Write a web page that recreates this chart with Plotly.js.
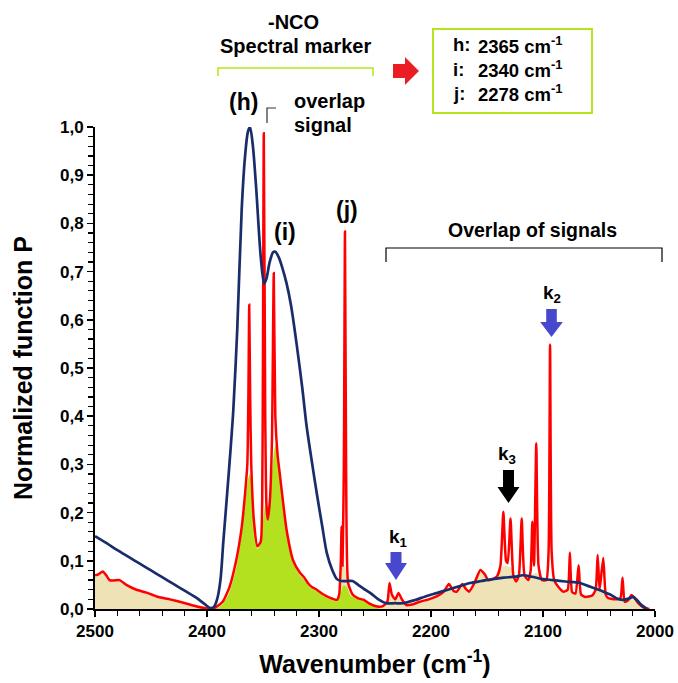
<!DOCTYPE html>
<html><head><meta charset="utf-8">
<script src="https://cdn.plot.ly/plotly-3.0.1.min.js"></script>
<style>html,body{margin:0;padding:0;background:#fff}#chart{width:678px;height:683px}</style>
</head><body><div id="chart"></div>
<script>
// ---- data (wavenumber cm-1, normalized P) ----
const redX = [2500,2497,2493,2490,2487,2484,2478,2472,2463,2454,2445,2433,2421,2409,2400,2396,2392,2386,2380,2374,2369,2366,2364,2363,2362.3,2361.5,2360.5,2358,2355,2352,2350.5,2349.3,2348,2347,2345.8,2344,2342,2340.4,2339,2337,2335,2333,2329,2323,2317,2313,2310,2306,2302,2296,2290,2284,2282,2280.5,2279.8,2279,2277.8,2276.8,2275.8,2274,2270,2265,2260,2254,2248,2243,2239,2237,2235,2232,2229,2226,2222,2216,2210,2202,2195,2189,2184,2180,2177,2172,2169,2166,2161,2156,2152,2149,2145,2141,2138,2135.4,2133,2131.5,2129,2126.5,2124,2121.5,2119,2116.5,2113,2111,2109.5,2108,2106,2104,2101,2097,2095,2093.7,2092.3,2090,2086,2082,2078,2076,2074,2071,2068.2,2066,2062,2056,2053,2051.2,2049.5,2046.2,2044,2042,2036,2031,2029,2027,2024,2021,2018,2015,2010,2005];
const redY = [0.070,0.072,0.078,0.070,0.060,0.059,0.060,0.050,0.040,0.034,0.026,0.020,0.013,0.005,0.001,0.000,0.004,0.015,0.045,0.100,0.170,0.240,0.300,0.450,0.631,0.450,0.300,0.180,0.130,0.140,0.300,0.987,0.400,0.220,0.185,0.220,0.350,0.697,0.400,0.320,0.280,0.240,0.165,0.100,0.075,0.065,0.054,0.045,0.040,0.030,0.023,0.019,0.030,0.100,0.171,0.090,0.300,0.783,0.300,0.054,0.030,0.022,0.019,0.010,0.005,0.006,0.015,0.054,0.030,0.020,0.033,0.020,0.008,0.010,0.015,0.020,0.026,0.035,0.052,0.038,0.036,0.052,0.042,0.036,0.055,0.081,0.072,0.060,0.062,0.068,0.090,0.202,0.100,0.095,0.188,0.070,0.057,0.070,0.188,0.070,0.060,0.080,0.181,0.090,0.344,0.090,0.060,0.060,0.120,0.548,0.120,0.060,0.045,0.036,0.040,0.117,0.035,0.032,0.091,0.030,0.025,0.028,0.040,0.112,0.040,0.106,0.030,0.023,0.020,0.022,0.065,0.015,0.018,0.029,0.022,0.012,0.003,0.000];

const blueX = [2500,2490,2480,2470,2460,2450,2440,2430,2420,2410,2402,2397,2394,2391,2388,2385.5,2382,2379,2376.5,2373,2369,2366,2363.5,2361.6,2359,2356,2352,2349,2347,2344,2341,2339,2336,2333,2329,2325,2320,2315,2311,2306,2302,2297,2293,2288,2284,2280,2275,2270,2265,2260,2254,2247,2240,2232,2225,2215,2205,2195,2185,2175,2165,2155,2145,2135,2125,2118,2110,2100,2091,2080,2067,2060,2053,2046,2040,2034,2028,2023,2019.6,2016,2012,2007];
const blueY = [0.151,0.137,0.122,0.108,0.094,0.080,0.066,0.052,0.038,0.024,0.010,0.002,0.004,0.020,0.060,0.137,0.240,0.330,0.413,0.580,0.830,0.940,0.990,1.000,0.960,0.870,0.730,0.675,0.685,0.720,0.740,0.741,0.730,0.710,0.676,0.630,0.550,0.460,0.378,0.300,0.240,0.170,0.116,0.080,0.062,0.058,0.058,0.058,0.050,0.042,0.033,0.020,0.012,0.012,0.012,0.018,0.026,0.033,0.040,0.047,0.054,0.058,0.062,0.065,0.067,0.070,0.067,0.062,0.060,0.057,0.054,0.048,0.042,0.036,0.030,0.022,0.019,0.022,0.025,0.018,0.008,0.000];

const beigeX = [2500,2497,2493,2490,2487,2484,2478,2472,2463,2454,2445,2433,2421,2409,2400,2396,2290,2284,2282,2280,2277,2274,2270,2265,2260,2254,2248,2243,2239,2237,2235,2232,2229,2226,2222,2216,2210,2202,2195,2189,2184,2180,2177,2172,2169,2166,2161,2156,2152,2149,2145,2141,2138,2135,2131,2128,2124,2121,2118,2113,2110,2106,2104,2101,2097,2094,2090,2086,2082,2078,2076,2074,2071,2068,2066,2062,2056,2053,2051,2049,2046,2044,2042,2036,2031,2029,2027,2024,2021,2018,2015,2010,2005];
const beigeY = [0.070,0.072,0.078,0.070,0.060,0.059,0.060,0.050,0.040,0.034,0.026,0.020,0.013,0.005,0.001,0.000,0.020,0.019,0.030,0.090,0.090,0.050,0.030,0.022,0.019,0.010,0.005,0.006,0.012,0.030,0.025,0.018,0.025,0.018,0.008,0.010,0.015,0.020,0.026,0.035,0.050,0.038,0.036,0.050,0.042,0.036,0.055,0.078,0.072,0.060,0.062,0.068,0.080,0.090,0.088,0.085,0.057,0.065,0.068,0.060,0.070,0.075,0.070,0.060,0.060,0.062,0.060,0.045,0.036,0.038,0.045,0.035,0.032,0.040,0.030,0.025,0.028,0.035,0.045,0.038,0.040,0.030,0.023,0.020,0.022,0.030,0.015,0.018,0.027,0.022,0.012,0.003,0.000];

const greenX = [2394,2390,2386,2380,2374,2369,2366,2364,2362,2360.5,2358,2355,2352,2350,2348,2346,2344,2342,2340,2338,2336,2335,2333,2329,2323,2317,2313,2310,2306,2302,2296,2290,2284,2281,2278,2275,2272,2265,2260,2254,2248,2246];
const greenY = [0.000,0.003,0.010,0.035,0.085,0.155,0.220,0.260,0.280,0.270,0.170,0.125,0.135,0.180,0.220,0.180,0.210,0.280,0.330,0.345,0.310,0.275,0.235,0.160,0.095,0.070,0.060,0.050,0.042,0.037,0.027,0.020,0.016,0.030,0.050,0.045,0.028,0.020,0.016,0.008,0.003,0.000];

const yTickVals = [0,0.1,0.2,0.3,0.4,0.5,0.6,0.7,0.8,0.9,1.0];
const yTickText = ['0,0','0,1','0,2','0,3','0,4','0,5','0,6','0,7','0,8','0,9','1,0'];
const xTickVals = [2500,2400,2300,2200,2100,2000];
const xTickText = ['2500','2400','2300','2200','2100','2000'];

const markerLines = [['h:','2365'],['i:','2340'],['j:','2278']];

// ---- layout helpers (pixel -> paper) ----
const L=95, T=127, W=560, H=482;
const PX = v => (v-L)/W;
const PY = v => (T+H-v)/H;
const FONT = 'Arial, "Liberation Sans", sans-serif';
function pathOf(pts, close){
  return pts.map((p,i)=>(i?'L':'M')+PX(p[0]).toFixed(5)+','+PY(p[1]).toFixed(5)).join(' ')+(close?' Z':'');
}
function downArrow(cx,y0,y1,y2,sw,hw){
  return pathOf([[cx-sw,y0],[cx+sw,y0],[cx+sw,y1],[cx+hw,y1],[cx,y2],[cx-hw,y1],[cx-sw,y1]],true);
}
function txt(text,x,y,size,anchor){
  return {text:text,xref:'paper',yref:'paper',x:PX(x),y:PY(y),xanchor:anchor||'center',yanchor:'middle',
    showarrow:false,font:{family:FONT,size:size,color:'#000',weight:'bold'}};
}

const traces = [
  {x:beigeX,y:beigeY,type:'scatter',mode:'lines',fill:'tozeroy',fillcolor:'#efe2b6',line:{width:0,color:'rgba(0,0,0,0)',shape:'spline',smoothing:0.5},hoverinfo:'skip',showlegend:false},
  {x:greenX,y:greenY,type:'scatter',mode:'lines',fill:'tozeroy',fillcolor:'#b3e11f',line:{width:0,color:'rgba(0,0,0,0)',shape:'spline',smoothing:0.5},hoverinfo:'skip',showlegend:false},
  {x:redX,y:redY,type:'scatter',mode:'lines',line:{color:'#ff0000',width:2.5,shape:'spline',smoothing:0.5},showlegend:false},
  {x:blueX,y:blueY,type:'scatter',mode:'lines',line:{color:'#1a2d6b',width:2.7,shape:'spline',smoothing:0.8},showlegend:false}
];

const annotations = [
  txt('-NCO',293,22,20),
  txt('Spectral marker',295,46,20),
  txt('(h)',243,102,23),
  txt('overlap',292,101,20,'left'),
  txt('signal',292,125,20,'left'),
  txt('(i)',285,232,23),
  txt('(j)',347,210,23),
  txt('Overlap of signals',532,230,19.5),
  txt('k<sub>1</sub>',398,538,19),
  txt('k<sub>2</sub>',552,294,19),
  txt('k<sub>3</sub>',507,455,19)
];
markerLines.forEach((m,i)=>{
  const y = 45 + i*24.2;
  annotations.push(txt(m[0],451,y,18.5,'left'));
  annotations.push(txt(m[1]+' cm<sup>-1</sup>',476,y,18.5,'left'));
});

const shapes = [
  {type:'path',xref:'paper',yref:'paper',path:pathOf([[218,76],[218,68],[373,68],[373,76]]),line:{color:'#b5e61d',width:1.5}},
  {type:'path',xref:'paper',yref:'paper',path:pathOf([[267,123],[267,108],[276,108]]),line:{color:'#333',width:1.2}},
  {type:'path',xref:'paper',yref:'paper',path:pathOf([[386,262],[386,248],[662,248],[662,262]]),line:{color:'#000',width:1.2}},
  {type:'rect',xref:'paper',yref:'paper',x0:PX(433),x1:PX(592),y0:PY(29),y1:PY(113),line:{color:'#b5e61d',width:2},fillcolor:'rgba(255,255,255,0)'},
  {type:'path',xref:'paper',yref:'paper',path:pathOf([[393,64],[405,64],[405,57],[419,71],[405,85],[405,78],[393,78]],true),line:{width:0},fillcolor:'#ec1c24'},
  {type:'path',xref:'paper',yref:'paper',path:downArrow(551.5,309,322,337,5.3,11.3),line:{width:0},fillcolor:'#4848cf'},
  {type:'path',xref:'paper',yref:'paper',path:downArrow(396,552,563,580,5.5,11),line:{width:0},fillcolor:'#4848cf'},
  {type:'path',xref:'paper',yref:'paper',path:downArrow(508.5,470,487,503,5.5,11),line:{width:0},fillcolor:'#000'}
];

const layout = {
  width:678,height:683,
  margin:{l:L,r:678-L-W,t:T,b:683-T-H,pad:0},
  paper_bgcolor:'#fff',plot_bgcolor:'#fff',
  font:{family:FONT,color:'#000'},
  xaxis:{range:[2500,2000],autorange:false,showgrid:false,zeroline:false,showline:true,linecolor:'#000',linewidth:2,
    ticks:'outside',ticklen:6,tickwidth:1.5,tickcolor:'#000',tickvals:xTickVals,ticktext:xTickText,
    minor:{dtick:20,ticks:'outside',ticklen:5,tickwidth:1.2,tickcolor:'#000',showgrid:false},
    tickfont:{family:FONT,size:17,color:'#000',weight:'bold'},
    title:{text:'Wavenumber (cm<sup>-1</sup>)',font:{family:FONT,size:25,color:'#000',weight:'bold'},standoff:15}},
  yaxis:{range:[0,1.0],autorange:false,showgrid:false,zeroline:false,showline:true,linecolor:'#000',linewidth:2,
    ticks:'outside',ticklen:6,tickwidth:1.5,tickcolor:'#000',tickvals:yTickVals,ticktext:yTickText,
    minor:{dtick:0.02,ticks:'outside',ticklen:5,tickwidth:1.2,tickcolor:'#000',showgrid:false},
    tickfont:{family:FONT,size:17,color:'#000',weight:'bold'},
    title:{text:'Normalized function P',font:{family:FONT,size:25,color:'#000',weight:'bold'},standoff:20}},
  annotations:annotations,
  shapes:shapes,
  showlegend:false
};

Plotly.newPlot('chart',traces,layout,{staticPlot:true,displayModeBar:false});
</script>
</body></html>
